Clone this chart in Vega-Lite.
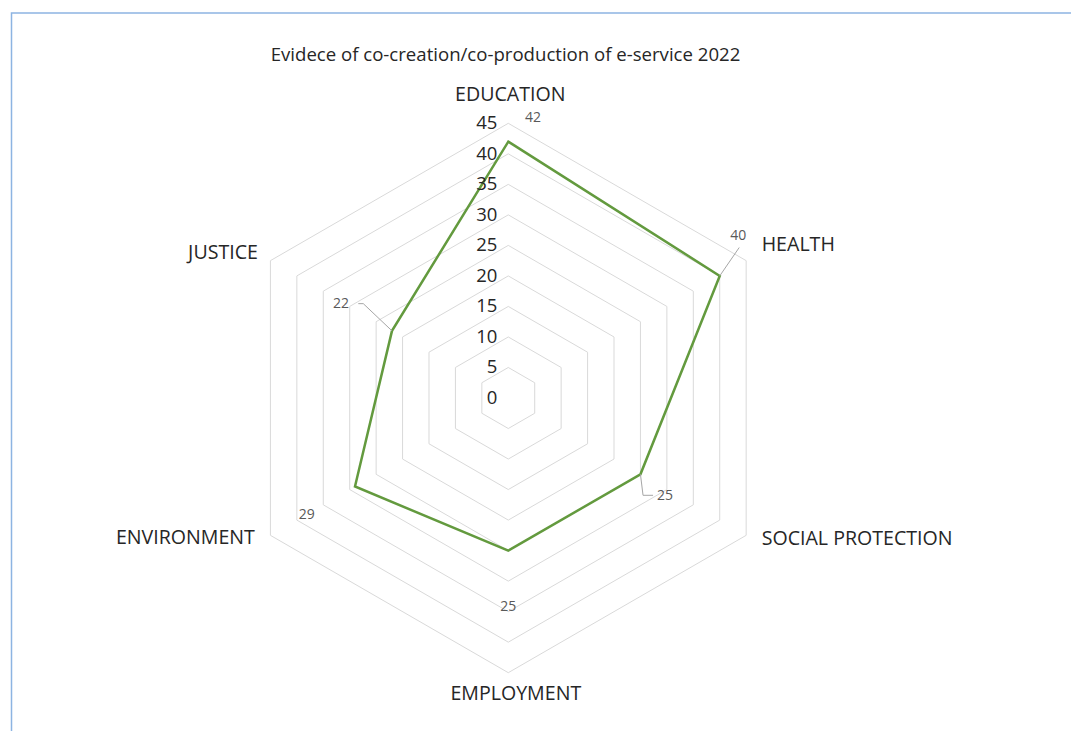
{
  "$schema": "https://vega.github.io/schema/vega-lite/v6.json",
  "width": 1062,
  "height": 720,
  "autosize": "none",
  "padding": {"left": 11.5, "top": 13, "right": 0, "bottom": 0},
  "background": "white",
  "view": {"stroke": "#8db4e2", "strokeWidth": 1.5},
  "config": {"font": "Open Sans"},
  "title": {
    "text": "Evidece of co-creation/co-production of e-service 2022",
    "fontSize": 18.6,
    "fontWeight": "normal",
    "color": "#262626",
    "anchor": "middle",
    "baseline": "middle",
    "offset": -61,
    "dx": -37
  },
  "datasets": {
    "series": [
      {"category": "EDUCATION", "value": 42, "k": 0},
      {"category": "HEALTH", "value": 40, "k": 1},
      {"category": "SOCIAL PROTECTION", "value": 25, "k": 2},
      {"category": "EMPLOYMENT", "value": 25, "k": 3},
      {"category": "ENVIRONMENT", "value": 29, "k": 4},
      {"category": "JUSTICE", "value": 22, "k": 5}
    ],
    "levels": [
      {"level": 0, "k": [0, 1, 2, 3, 4, 5]},
      {"level": 5, "k": [0, 1, 2, 3, 4, 5]},
      {"level": 10, "k": [0, 1, 2, 3, 4, 5]},
      {"level": 15, "k": [0, 1, 2, 3, 4, 5]},
      {"level": 20, "k": [0, 1, 2, 3, 4, 5]},
      {"level": 25, "k": [0, 1, 2, 3, 4, 5]},
      {"level": 30, "k": [0, 1, 2, 3, 4, 5]},
      {"level": 35, "k": [0, 1, 2, 3, 4, 5]},
      {"level": 40, "k": [0, 1, 2, 3, 4, 5]},
      {"level": 45, "k": [0, 1, 2, 3, 4, 5]}
    ]
  },
  "layer": [
    {
      "data": {"name": "levels"},
      "transform": [
        {"filter": "datum.level > 0"},
        {"flatten": ["k"]},
        {"calculate": "datum.level*sin(datum.k*PI/3)", "as": "px"},
        {"calculate": "datum.level*cos(datum.k*PI/3)", "as": "py"}
      ],
      "mark": {"type": "line", "interpolate": "linear-closed", "stroke": "#d9d9d9", "strokeWidth": 1},
      "encoding": {
        "x": {"field": "px", "type": "quantitative", "scale": {"domain": [-81.39, 92.6], "nice": false, "zero": false}, "axis": null},
        "y": {"field": "py", "type": "quantitative", "scale": {"domain": [-54.88, 63.07], "nice": false, "zero": false}, "axis": null},
        "detail": {"field": "level", "type": "nominal"},
        "order": {"field": "k", "type": "quantitative"}
      }
    },
    {
      "data": {"name": "series"},
      "transform": [
        {"calculate": "datum.value*sin(datum.k*PI/3)", "as": "px"},
        {"calculate": "datum.value*cos(datum.k*PI/3)", "as": "py"}
      ],
      "mark": {"type": "line", "interpolate": "linear-closed", "stroke": "#639a3e", "strokeWidth": 2.5},
      "encoding": {
        "x": {"field": "px", "type": "quantitative", "scale": {"domain": [-81.39, 92.6], "nice": false, "zero": false}, "axis": null},
        "y": {"field": "py", "type": "quantitative", "scale": {"domain": [-54.88, 63.07], "nice": false, "zero": false}, "axis": null},
        "order": {"field": "k", "type": "quantitative"}
      }
    },
    {
      "data": {"name": "levels"},
      "transform": [
        {"calculate": "0", "as": "px"}
      ],
      "mark": {"type": "text", "align": "right", "baseline": "middle", "dx": -11, "dy": 0, "fontSize": 18.5, "color": "#262626"},
      "encoding": {
        "x": {"field": "px", "type": "quantitative", "scale": {"domain": [-81.39, 92.6], "nice": false, "zero": false}, "axis": null},
        "y": {"field": "level", "type": "quantitative", "scale": {"domain": [-54.88, 63.07], "nice": false, "zero": false}, "axis": null},
        "text": {"field": "level", "type": "quantitative"}
      }
    },
    {
      "data": {"name": "series"},
      "transform": [
        {"calculate": "45*sin(datum.k*PI/3)", "as": "ox"},
        {"calculate": "45*cos(datum.k*PI/3)", "as": "oy"}
      ],
      "encoding": {
        "x": {"field": "ox", "type": "quantitative", "scale": {"domain": [-81.39, 92.6], "nice": false, "zero": false}, "axis": null},
        "y": {"field": "oy", "type": "quantitative", "scale": {"domain": [-54.88, 63.07], "nice": false, "zero": false}, "axis": null},
        "text": {"field": "category", "type": "nominal"}
      },
      "layer": [
        {"transform": [{"filter": "datum.category === 'EDUCATION'"}], "mark": {"type": "text", "align": "center", "baseline": "middle", "dx": 2, "dy": -28.5, "fontSize": 19.6, "color": "#262626"}},
        {"transform": [{"filter": "datum.category === 'HEALTH'"}], "mark": {"type": "text", "align": "left", "baseline": "middle", "dx": 15.5, "dy": -16, "fontSize": 19.6, "color": "#262626"}},
        {"transform": [{"filter": "datum.category === 'SOCIAL PROTECTION'"}], "mark": {"type": "text", "align": "left", "baseline": "middle", "dx": 15.5, "dy": 4, "fontSize": 19.6, "color": "#262626"}},
        {"transform": [{"filter": "datum.category === 'EMPLOYMENT'"}], "mark": {"type": "text", "align": "center", "baseline": "middle", "dx": 7.5, "dy": 21, "fontSize": 19.6, "color": "#262626"}},
        {"transform": [{"filter": "datum.category === 'ENVIRONMENT'"}], "mark": {"type": "text", "align": "right", "baseline": "middle", "dx": -15.5, "dy": 3, "fontSize": 19.6, "color": "#262626"}},
        {"transform": [{"filter": "datum.category === 'JUSTICE'"}], "mark": {"type": "text", "align": "right", "baseline": "middle", "dx": -12.5, "dy": -7.5, "fontSize": 19.6, "color": "#262626"}}
      ]
    },
    {
      "data": {"name": "series"},
      "transform": [
        {"calculate": "datum.value*sin(datum.k*PI/3)", "as": "px"},
        {"calculate": "datum.value*cos(datum.k*PI/3)", "as": "py"}
      ],
      "encoding": {
        "x": {"field": "px", "type": "quantitative", "scale": {"domain": [-81.39, 92.6], "nice": false, "zero": false}, "axis": null},
        "y": {"field": "py", "type": "quantitative", "scale": {"domain": [-54.88, 63.07], "nice": false, "zero": false}, "axis": null},
        "x2": {"field": "px"},
        "y2": {"field": "py"}
      },
      "layer": [
        {"transform": [{"filter": "datum.category === 'HEALTH'"}], "mark": {"type": "rule", "stroke": "#a6a6a6", "strokeWidth": 1, "x2Offset": 19.5, "y2Offset": -28.4}},
        {"transform": [{"filter": "datum.category === 'JUSTICE'"}], "mark": {"type": "rule", "stroke": "#a6a6a6", "strokeWidth": 1, "x2Offset": -28.7, "y2Offset": -27.2}},
        {"transform": [{"filter": "datum.category === 'JUSTICE'"}], "mark": {"type": "rule", "stroke": "#a6a6a6", "strokeWidth": 1, "xOffset": -28.7, "yOffset": -27.2, "x2Offset": -33.7, "y2Offset": -27.2}},
        {"transform": [{"filter": "datum.category === 'SOCIAL PROTECTION'"}], "mark": {"type": "rule", "stroke": "#a6a6a6", "strokeWidth": 1, "x2Offset": 2.6, "y2Offset": 21}},
        {"transform": [{"filter": "datum.category === 'SOCIAL PROTECTION'"}], "mark": {"type": "rule", "stroke": "#a6a6a6", "strokeWidth": 1, "xOffset": 2.6, "yOffset": 21, "x2Offset": 12.6, "y2Offset": 21}}
      ]
    },
    {
      "data": {"name": "series"},
      "transform": [
        {"calculate": "datum.value*sin(datum.k*PI/3)", "as": "px"},
        {"calculate": "datum.value*cos(datum.k*PI/3)", "as": "py"}
      ],
      "encoding": {
        "x": {"field": "px", "type": "quantitative", "scale": {"domain": [-81.39, 92.6], "nice": false, "zero": false}, "axis": null},
        "y": {"field": "py", "type": "quantitative", "scale": {"domain": [-54.88, 63.07], "nice": false, "zero": false}, "axis": null},
        "text": {"field": "value", "type": "quantitative"}
      },
      "layer": [
        {"transform": [{"filter": "datum.category === 'EDUCATION'"}], "mark": {"type": "text", "align": "center", "baseline": "middle", "dx": 24.7, "dy": -24, "fontSize": 14, "color": "#595959"}},
        {"transform": [{"filter": "datum.category === 'HEALTH'"}], "mark": {"type": "text", "align": "center", "baseline": "middle", "dx": 18.6, "dy": -39.6, "fontSize": 14, "color": "#595959"}},
        {"transform": [{"filter": "datum.category === 'SOCIAL PROTECTION'"}], "mark": {"type": "text", "align": "center", "baseline": "middle", "dx": 24.5, "dy": 21.3, "fontSize": 14, "color": "#595959"}},
        {"transform": [{"filter": "datum.category === 'EMPLOYMENT'"}], "mark": {"type": "text", "align": "center", "baseline": "middle", "dx": 0, "dy": 56, "fontSize": 14, "color": "#595959"}},
        {"transform": [{"filter": "datum.category === 'ENVIRONMENT'"}], "mark": {"type": "text", "align": "center", "baseline": "middle", "dx": -48.3, "dy": 28.4, "fontSize": 14, "color": "#595959"}},
        {"transform": [{"filter": "datum.category === 'JUSTICE'"}], "mark": {"type": "text", "align": "center", "baseline": "middle", "dx": -51, "dy": -27.3, "fontSize": 14, "color": "#595959"}}
      ]
    }
  ]
}
